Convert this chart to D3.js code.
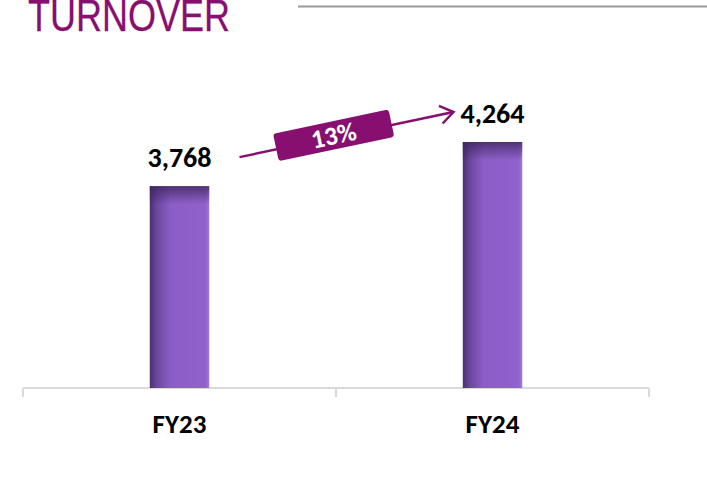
<!DOCTYPE html>
<html>
<head>
<meta charset="utf-8">
<script src="https://d3js.org/d3.v7.min.js"></script>
<style>
  body { margin: 0; background: #fff; }
  svg { display: block; }
</style>
</head>
<body>
<div id="chart"></div>
<script>
// data
var categories = ["FY23", "FY24"];
var turnover = [3768, 4264];
var axisBase = 1500;   // value axis is cut, bars do not start at zero
var title = "TURNOVER";

var width = 707, height = 495;
var purple = "#870f6f";

var svg = d3.select("#chart").append("svg")
  .attr("width", width)
  .attr("height", height);

var defs = svg.append("defs");
var grad = defs.append("linearGradient").attr("id", "barGrad")
  .attr("x1", "0%").attr("x2", "100%").attr("y1", "0%").attr("y2", "0%");
grad.append("stop").attr("offset", "0%").attr("stop-color", "#4a2f6e");
grad.append("stop").attr("offset", "12%").attr("stop-color", "#6a47a0");
grad.append("stop").attr("offset", "35%").attr("stop-color", "#8c5dc6");
grad.append("stop").attr("offset", "94%").attr("stop-color", "#9161cc");
grad.append("stop").attr("offset", "100%").attr("stop-color", "#a07ad6");

var shade = defs.append("linearGradient").attr("id", "topShade")
  .attr("x1", "0%").attr("x2", "0%").attr("y1", "0%").attr("y2", "100%");
shade.append("stop").attr("offset", "0%").attr("stop-color", "#3a2358").attr("stop-opacity", 0.75);
shade.append("stop").attr("offset", "100%").attr("stop-color", "#3a2358").attr("stop-opacity", 0);

// title + rule (title is clipped by the top edge, as in the slide)
svg.append("text")
  .attr("transform", "translate(28,30.5) scale(0.8,1)")
  .attr("font-family", "Liberation Sans, Arial, sans-serif")
  .attr("font-size", 45)
  .attr("fill", purple)
  .attr("stroke", purple)
  .attr("stroke-width", 0.25)
  .text(title);

svg.append("line")
  .attr("x1", 298).attr("x2", width)
  .attr("y1", 6.5).attr("y2", 6.5)
  .attr("stroke", "#9a9a9a").attr("stroke-width", 2);

// scales
var x = d3.scaleBand()
  .domain(categories)
  .range([23, 649]);

var y = d3.scaleLinear()
  .domain([axisBase, d3.max(turnover)])
  .range([388, 142]);

var barW = x.bandwidth() * 0.19;

// axis
var ax = svg.append("g").attr("transform", "translate(0," + y(axisBase) + ")");
ax.append("line")
  .attr("x1", x.range()[0]).attr("x2", x.range()[1])
  .attr("stroke", "#d9d9d9").attr("stroke-width", 2);
var tickPos = categories.map(function (d) { return x(d); }).concat([x.range()[1]]);
ax.selectAll(".tk").data(tickPos).enter().append("line")
  .attr("x1", function (d) { return d; }).attr("x2", function (d) { return d; })
  .attr("y1", 0).attr("y2", 9)
  .attr("stroke", "#d9d9d9").attr("stroke-width", 2);

ax.selectAll(".cat").data(categories).enter().append("text")
  .attr("x", function (d) { return x(d) + x.bandwidth() / 2; })
  .attr("y", 45)
  .attr("text-anchor", "middle")
  .attr("font-family", "Carlito, Open Sans, sans-serif")
  .attr("font-weight", "bold")
  .attr("font-size", 27)
  .attr("fill", "#000")
  .text(function (d) { return d; });

// bars
var bars = svg.append("g").selectAll("g").data(turnover).enter().append("g");
bars.append("rect")
  .attr("x", function (d, i) { return x(categories[i]) + x.bandwidth() / 2 - barW / 2; })
  .attr("y", function (d) { return y(d); })
  .attr("width", barW)
  .attr("height", function (d) { return y(axisBase) - y(d); })
  .attr("fill", "url(#barGrad)");
bars.append("rect")
  .attr("x", function (d, i) { return x(categories[i]) + x.bandwidth() / 2 - barW / 2; })
  .attr("y", function (d) { return y(d); })
  .attr("width", barW)
  .attr("height", 18)
  .attr("fill", "url(#topShade)");

bars.append("text")
  .attr("x", function (d, i) { return x(categories[i]) + x.bandwidth() / 2; })
  .attr("y", function (d) { return y(d) - 19; })
  .attr("text-anchor", "middle")
  .attr("font-family", "Carlito, Open Sans, sans-serif")
  .attr("font-weight", "bold")
  .attr("font-size", 28)
  .attr("fill", "#000")
  .text(function (d) { return d3.format(",")(d); });

// growth arrow
var cx0 = x(categories[0]) + x.bandwidth() / 2, cx1 = x(categories[1]) + x.bandwidth() / 2;
var x0 = cx0 + 60, y0 = y(turnover[0]) - 29;
var x1 = cx1 - 39, y1 = y(turnover[1]) - 30;
var ang = Math.atan2(y1 - y0, x1 - x0) * 180 / Math.PI;

var arrow = svg.append("g");
arrow.append("line")
  .attr("x1", x0).attr("y1", y0).attr("x2", x1).attr("y2", y1)
  .attr("stroke", purple).attr("stroke-width", 2.5);
var head = arrow.append("g").attr("transform", "translate(" + x1 + "," + y1 + ") rotate(" + ang + ")");
head.append("path")
  .attr("d", "M-13,-9 L0,0 L-13,9")
  .attr("fill", "none").attr("stroke", purple).attr("stroke-width", 2.5);

var growth = turnover[1] / turnover[0] - 1;
var bx = x0 + (x1 - x0) * 0.44, by = y0 + (y1 - y0) * 0.44 - 2;
var badge = arrow.append("g").attr("transform", "translate(" + bx + "," + by + ") rotate(" + ang + ")");
badge.append("rect")
  .attr("x", -59).attr("y", -14).attr("width", 118).attr("height", 28)
  .attr("rx", 3)
  .attr("fill", purple);
badge.append("text")
  .attr("y", 9)
  .attr("text-anchor", "middle")
  .attr("font-family", "Carlito, Open Sans, sans-serif")
  .attr("font-weight", "bold")
  .attr("font-size", 26)
  .attr("fill", "#fff")
  .text(d3.format(".0%")(growth));
</script>
</body>
</html>
